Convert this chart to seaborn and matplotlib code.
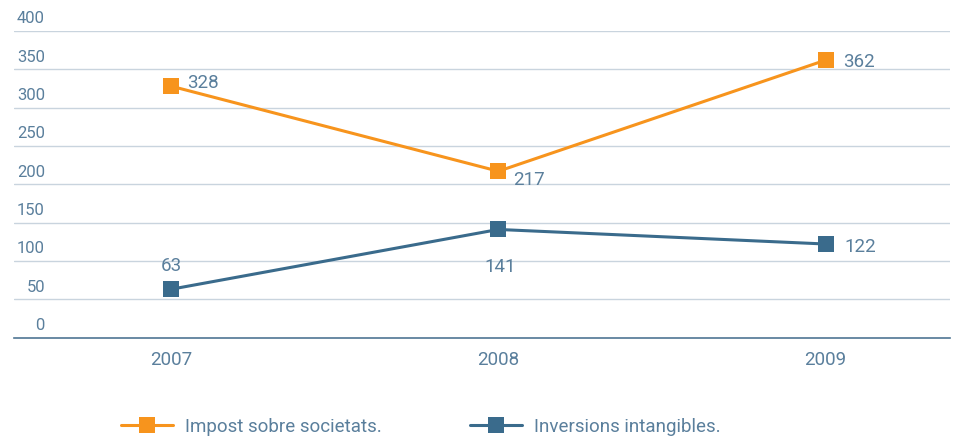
import pandas as pd
import matplotlib.pyplot as plt
import seaborn as sns

# Data
years = ["2007", "2008", "2009"]
impost = [328, 217, 362]
inversions = [63, 141, 122]
series_names = ["Impost sobre societats.", "Inversions intangibles."]
y_ticks = [0, 50, 100, 150, 200, 250, 300, 350, 400]

orange = "#F7941D"
blue = "#3A6B8C"
text_col = "#5A7F9C"
grid_col = "#C9D4DE"

df = pd.DataFrame({
    "pos": list(range(len(years))) * 2,
    "value": impost + inversions,
    "serie": [series_names[0]] * len(years) + [series_names[1]] * len(years),
})

sns.set_style("white")
plt.rcParams["font.family"] = ["Roboto", "DejaVu Sans"]

fig = plt.figure(figsize=(9.59, 4.40), dpi=100)
ax = fig.add_axes([14 / 959, 1 - 337.5 / 440, 936 / 959, 306.5 / 440])

sns.lineplot(data=df, x="pos", y="value", hue="serie",
             palette=[orange, blue], marker="s", markersize=11.5,
             markeredgewidth=0, linewidth=2.2, ax=ax, legend=False)

ax.set_xlim(-0.48, 2.38)
ax.set_ylim(0, 400)

# horizontal gridlines and in-plot y labels
for v in y_ticks[1:]:
    ax.axhline(v, color=grid_col, linewidth=1, zorder=0)
for v in y_ticks:
    ax.text(31 / 936, v + 6, str(v), transform=ax.get_yaxis_transform(),
            ha="right", va="bottom", color=text_col, fontsize=12)

ax.set_yticks([])
ax.set_xticks(range(len(years)))
ax.set_xticklabels(years, color=text_col, fontsize=13.5)
ax.tick_params(axis="x", length=6, width=1, color="#6F8FA8", pad=4)
ax.set_xlabel("")
ax.set_ylabel("")

for s in ["top", "right", "left"]:
    ax.spines[s].set_visible(False)
ax.spines["bottom"].set_color("#4F7693")
ax.spines["bottom"].set_linewidth(1.2)

# value labels (offsets in pixels)
offsets_imp = [(16, 3, "left"), (15, -9, "left"), (17, -2, "left")]
offsets_inv = [(0, 23, "center"), (2, -38, "center"), (19, -3, "left")]
for vals, offs in [(impost, offsets_imp), (inversions, offsets_inv)]:
    for i, v in enumerate(vals):
        dx, dy, ha = offs[i]
        ax.annotate(str(v), (i, v), xytext=(dx, dy), textcoords="offset pixels",
                    ha=ha, va="center", color=text_col, fontsize=13.5)

# legend
handles = [plt.Line2D([], [], color=c, marker="s", markersize=11.5, markeredgewidth=0,
                      linewidth=2.2) for c in [orange, blue]]
fig.legend(handles, series_names, loc="center left", bbox_to_anchor=(121 / 959, 1 - 427 / 440),
           ncol=2, frameon=False, fontsize=13.5, handlelength=2.77, columnspacing=4.7,
           handletextpad=0.64, borderpad=0, borderaxespad=0, labelcolor=text_col)

fig.savefig("out.png", dpi=100)
